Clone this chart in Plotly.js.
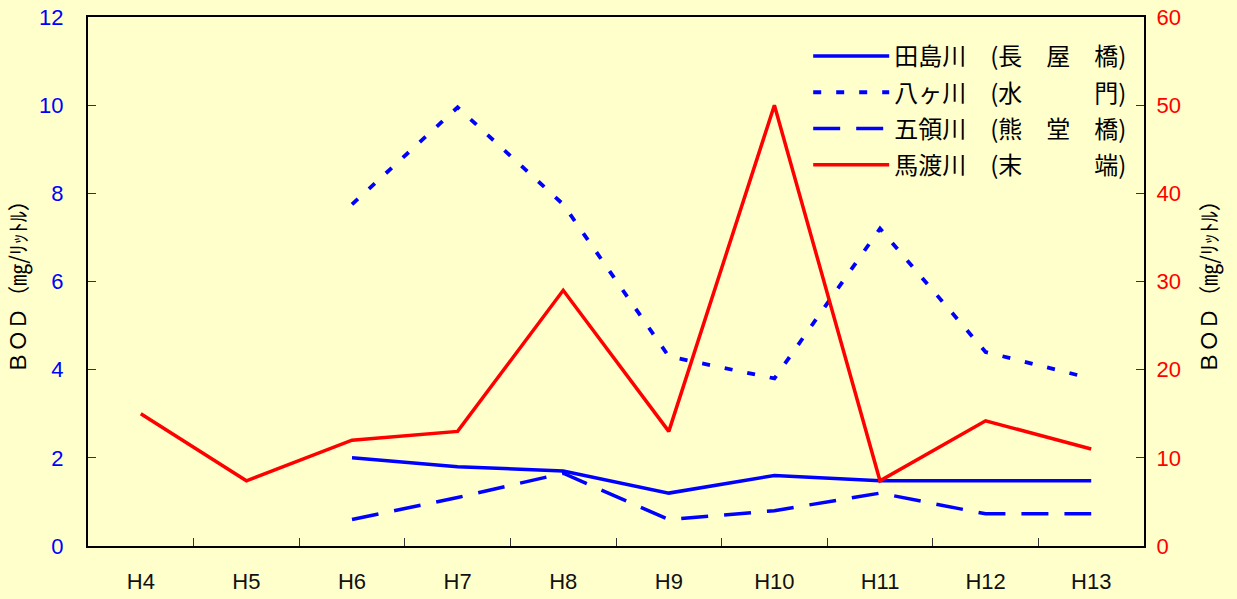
<!DOCTYPE html>
<html>
<head>
<meta charset="utf-8">
<script src="https://cdn.plot.ly/plotly-3.0.1.min.js"></script>
<style>html,body{margin:0;padding:0;background:#FFFFCC;}#chart{width:1237px;height:599px;}</style>
</head>
<body>
<div id="chart"></div>
<script>
const categories = ["H4","H5","H6","H7","H8","H9","H10","H11","H12","H13"];
const tajima   = [null, null, 2.0, 1.8, 1.7, 1.2, 1.6, 1.48, 1.48, 1.48];
const hakka    = [null, null, 7.75, 9.95, 7.75, 4.3, 3.8, 7.2, 4.4, 3.8];
const goryo    = [null, null, 0.6, 1.1, 1.65, 0.6, 0.8, 1.2, 0.73, 0.73];
const mawatari = [15, 7.4, 12, 13, 29, 13, 50, 7.4, 14.2, 11];
const names = ["田島川　(長　屋　橋)", "八ヶ川　(水　　　門)", "五領川　(熊　堂　橋)", "馬渡川　(末　　　端)"];
const leftTicks = [0,2,4,6,8,10,12];
const rightTicks = [0,10,20,30,40,50,60];
const axisTitle = "ＢＯＤ（㎎/ﾘｯﾄﾙ）";

const BLUE = "#0000FF", RED = "#FF0000";
const traces = [
  {x: categories, y: tajima, name: names[0], type: "scatter", mode: "lines", line: {color: BLUE, width: 3.5}, legendgroup: "a"},
  {x: categories, y: hakka, name: names[1], type: "scatter", mode: "lines", line: {color: BLUE, width: 3.8, dash: "8px,15px"}, legendgroup: "b"},
  {x: categories, y: goryo, name: names[2], type: "scatter", mode: "lines", line: {color: BLUE, width: 3.5, dash: "27px,16px"}, legendgroup: "c"},
  {x: categories, y: mawatari, name: names[3], type: "scatter", mode: "lines", line: {color: RED, width: 3.5}, yaxis: "y2", legendgroup: "d"}
];

const layout = {
  width: 1237, height: 599,
  paper_bgcolor: "#FFFFCC", plot_bgcolor: "#FFFFCC",
  margin: {l: 88, r: 93, t: 17, b: 53},
  showlegend: true,
  legend: {
    x: 0.682, y: 0.968, xanchor: "left", yanchor: "top",
    bgcolor: "rgba(0,0,0,0)", borderwidth: 0,
    font: {family: "Noto Sans CJK JP", size: 24, color: "#000"},
    itemwidth: 76, traceorder: "grouped", tracegroupgap: 2
  },
  xaxis: {
    type: "category", range: [-0.5, 9.5],
    tickvals: categories, ticktext: categories,
    tickson: "boundaries", ticks: "inside", ticklen: 8, tickcolor: "#333", tickwidth: 1,
    showline: true, linecolor: "#000", linewidth: 2, mirror: true,
    showgrid: false, zeroline: false,
    tickfont: {family: "Liberation Sans Narrow, Liberation Sans", size: 22, color: "#111"},
    ticklabelstandoff: 15
  },
  yaxis: {
    range: [0, 12], tickvals: leftTicks, ticktext: leftTicks.map(String),
    ticks: "inside", ticklen: 8, tickcolor: "#333", tickwidth: 1,
    showline: true, linecolor: "#000", linewidth: 2,
    showgrid: false, zeroline: false,
    tickfont: {family: "Liberation Sans", size: 22, color: BLUE},
    ticklabelstandoff: 18,
    title: {text: axisTitle, font: {family: "Noto Sans CJK JP", size: 22, color: "#000"}, standoff: 18}
  },
  yaxis2: {
    range: [0, 60], tickvals: rightTicks, ticktext: rightTicks.map(String),
    overlaying: "y", side: "right",
    ticks: "inside", ticklen: 8, tickcolor: "#333", tickwidth: 1,
    showline: true, linecolor: "#000", linewidth: 2,
    showgrid: false, zeroline: false,
    tickfont: {family: "Liberation Sans", size: 22, color: RED},
    ticklabelstandoff: 6,
    title: {text: axisTitle, font: {family: "Noto Sans CJK JP", size: 22, color: "#000"}, standoff: 22}
  }
};

Plotly.newPlot("chart", traces, layout, {displayModeBar: false, staticPlot: true});
</script>
</body>
</html>
